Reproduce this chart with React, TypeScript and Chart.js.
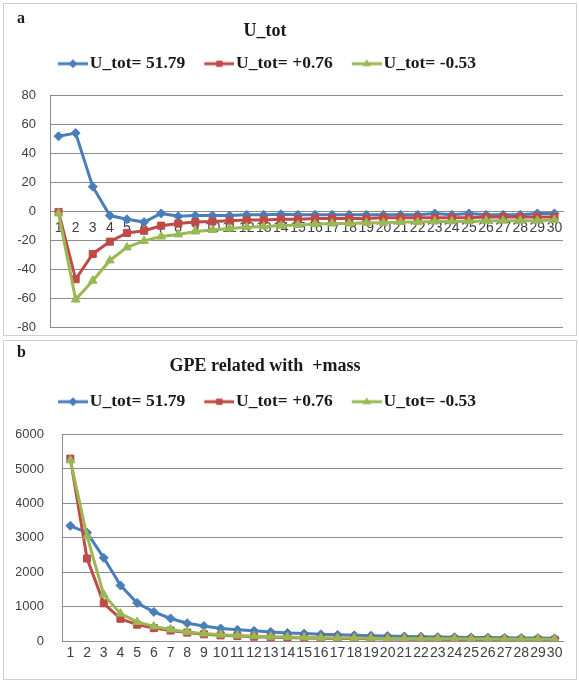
import React, { useEffect, useRef } from "react";
import { Chart, registerables } from "chart.js";
Chart.register(...registerables);

const categories = ["1","2","3","4","5","6","7","8","9","10","11","12","13","14","15","16","17","18","19","20","21","22","23","24","25","26","27","28","29","30"];
const seriesLabels = ["U_tot= 51.79", "U_tot= +0.76", "U_tot= -0.53"];
const seriesColors = ["#4A7EBB", "#BE4B48", "#98B954"];
const seriesMarkers = ["rectRot", "rect", "triangle"];

const titleA = "U_tot";
const titleB = "GPE related with  +mass";

// Panel a: U_tot
const uTotBlue = [51.8, 54, 17, -3, -5.5, -7.5, -1.5, -3.5, -3, -3, -3, -2.5, -2.5, -2, -2.5, -2.5, -2.5, -2.5, -2.5, -2.5, -2.5, -2.5, -1.5, -2.5, -1.5, -2.5, -2.5, -2.5, -1.5, -1.5];
const uTotRed = [-0.5, -47, -29.5, -21, -15, -13.5, -10, -8.5, -7.5, -7, -6.5, -6, -6, -5.5, -5.5, -5, -5, -5, -5, -4.5, -4.5, -4.5, -4.5, -4.5, -4.5, -4, -4, -4, -4, -4];
const uTotGreen = [-1.5, -61, -48, -34, -25, -20.5, -17.5, -16, -14, -13, -12, -11, -10.5, -10, -9.5, -9, -8.5, -8.5, -8, -8, -7.5, -7.5, -7, -7, -7, -6.5, -6.5, -6.5, -6.5, -6];
const uTotYTicks = [-80, -60, -40, -20, 0, 20, 40, 60, 80];

// Panel b: GPE related with +mass
const gpeBlue = [3350, 3150, 2420, 1620, 1110, 850, 660, 520, 440, 370, 330, 300, 270, 240, 220, 200, 185, 170, 160, 150, 140, 130, 120, 115, 110, 105, 100, 95, 90, 85];
const gpeRed = [5300, 2400, 1100, 650, 480, 380, 310, 250, 200, 170, 150, 130, 115, 105, 95, 85, 80, 75, 70, 65, 60, 58, 55, 52, 50, 48, 46, 44, 42, 40];
const gpeGreen = [5250, 3050, 1350, 800, 560, 430, 340, 270, 220, 190, 165, 145, 130, 120, 110, 100, 95, 90, 85, 80, 75, 72, 70, 68, 65, 62, 60, 58, 56, 55];
const gpeYTicks = [0, 1000, 2000, 3000, 4000, 5000, 6000];

const gridColor = "#8c8c8c";
const tickColor = "#404040";
const serif = "'Liberation Serif', 'DejaVu Serif', serif";
const sans = "'Liberation Sans', 'DejaVu Sans', sans-serif";

function drawMarker(ctx: CanvasRenderingContext2D, style: string, x: number, y: number, r: number) {
  ctx.beginPath();
  if (style === "rectRot") {
    ctx.moveTo(x - r, y); ctx.lineTo(x, y - r); ctx.lineTo(x + r, y); ctx.lineTo(x, y + r);
  } else if (style === "rect") {
    const s = r * Math.SQRT1_2;
    ctx.rect(x - s, y - s, 2 * s, 2 * s);
  } else {
    ctx.moveTo(x, y - r); ctx.lineTo(x + r * 0.95, y + r * 0.55); ctx.lineTo(x - r * 0.95, y + r * 0.55);
  }
  ctx.closePath();
  ctx.fill();
}

// legend icon: transparent lead-in, then a 30px line with the marker in its middle
function legendIcon(i: number) {
  const c = document.createElement("canvas");
  c.width = 38; c.height = 14;
  const ctx = c.getContext("2d")!;
  ctx.strokeStyle = seriesColors[i];
  ctx.fillStyle = seriesColors[i];
  ctx.lineWidth = 3;
  ctx.beginPath(); ctx.moveTo(8, 7); ctx.lineTo(38, 7); ctx.stroke();
  drawMarker(ctx, seriesMarkers[i], 23, 7, 4.5);
  return c;
}

function makeDatasets(values: number[][]) {
  const radii = [4.5, 5, 5];
  return values.map((v, i) => ({
    label: seriesLabels[i],
    data: v,
    borderColor: seriesColors[i],
    backgroundColor: seriesColors[i],
    borderWidth: 3,
    pointStyle: seriesMarkers[i],
    pointRadius: radii[i],
    pointBorderWidth: 1,
    pointBackgroundColor: seriesColors[i],
    pointBorderColor: seriesColors[i],
    tension: 0,
    order: 2 - i,
  }));
}

const legendPlace = (left: number, top: number) => ({
  id: "legendPlace",
  afterLayout(chart: any) {
    const l = chart.legend;
    if (!l) return;
    const w = l.right - l.left;
    const h = l.bottom - l.top;
    l.left = left; l.right = left + w;
    l.top = top; l.bottom = top + h;
  },
});

function buildOptions(kind: "a" | "b") {
  const icons = [legendIcon(0), legendIcon(1), legendIcon(2)];
  const yTicks = kind === "a" ? uTotYTicks : gpeYTicks;
  return {
    responsive: false,
    animation: false as const,
    layout: { padding: kind === "a" ? { left: 12, right: 13, top: 46, bottom: 8 } : { left: 12, right: 13, top: 48, bottom: 13 } },
    plugins: {
      tooltip: { enabled: false },
      title: { display: false },
      legend: {
        position: "top" as const,
        align: "start" as const,
        labels: {
          padding: 18,
          usePointStyle: true,
          pointStyleWidth: 24,
          color: "#1a1a1a",
          font: { family: serif, size: 17.5, weight: "bold" as const },
          sort: (a: any, b: any) => a.datasetIndex - b.datasetIndex,
          generateLabels: (chart: any) => {
            const items = (Chart.defaults.plugins.legend.labels as any).generateLabels(chart);
            return items.map((it: any) => ({ ...it, pointStyle: icons[it.datasetIndex] }));
          },
        },
      },
    },
    scales: {
      x: {
        type: "category" as const,
        position: kind === "a" ? ({ y: 0 } as any) : ("bottom" as const),
        offset: true,
        grid: { display: false, drawTicks: false },
        border: { display: true, color: gridColor, width: 1 },
        ticks: {
          autoSkip: false,
          maxRotation: 0,
          padding: kind === "a" ? 8 : 4,
          color: tickColor,
          font: { family: sans, size: 14 },
        },
      },
      y: {
        min: yTicks[0],
        max: yTicks[yTicks.length - 1],
        ticks: {
          stepSize: yTicks[1] - yTicks[0],
          padding: kind === "a" ? 14 : 18,
          color: tickColor,
          font: { family: sans, size: 13 },
          callback: (v: any) => String(v),
        },
        grid: { color: gridColor, lineWidth: 1, drawTicks: false },
        border: { display: true, color: gridColor, width: 1 },
        afterFit: (s: any) => {
          s.width = kind === "a" ? 34 : 46;
          if (kind === "a") { s.paddingTop = 0; s.paddingBottom = 0; }
        },
      },
    },
  };
}

function Panel(props: { kind: "a" | "b"; top: number; height: number; letter: string; title: string; titleCenterY: number; letterY: number; legendTop: number; values: number[][] }) {
  const ref = useRef<HTMLCanvasElement | null>(null);
  useEffect(() => {
    if (!ref.current) return;
    const chart = new Chart(ref.current, {
      type: "line",
      data: { labels: categories, datasets: makeDatasets(props.values) as any },
      options: buildOptions(props.kind) as any,
      plugins: [legendPlace(35, props.legendTop)],
    });
    return () => chart.destroy();
  }, []);
  const w = 572;
  const h = props.height - 2;
  return (
    <div style={{ position: "absolute", left: 3, top: props.top, width: 574, height: props.height, boxSizing: "border-box", border: "1px solid #cfcfcf", background: "#fff" }}>
      <canvas ref={ref} width={w} height={h} style={{ position: "absolute", left: 0, top: 0, width: w, height: h }} />
      <div style={{ position: "absolute", left: 13, top: props.letterY - 10, lineHeight: "20px", font: `bold 16px ${serif}`, color: "#1a1a1a" }}>{props.letter}</div>
      <div style={{ position: "absolute", left: 0, width: 522, top: props.titleCenterY - 10, lineHeight: "20px", textAlign: "center", font: `bold 18px ${serif}`, color: "#1a1a1a", whiteSpace: "pre" }}>{props.title}</div>
    </div>
  );
}

export default function App() {
  return (
    <div style={{ position: "absolute", left: 0, top: 0, width: 579, height: 684, background: "#fff" }}>
      <Panel kind="a" top={3} height={333} letter="a" title={titleA} titleCenterY={26} letterY={15} legendTop={33} values={[uTotBlue, uTotRed, uTotGreen]} />
      <Panel kind="b" top={340} height={340} letter="b" title={titleB} titleCenterY={24} letterY={12} legendTop={34} values={[gpeBlue, gpeRed, gpeGreen]} />
    </div>
  );
}
